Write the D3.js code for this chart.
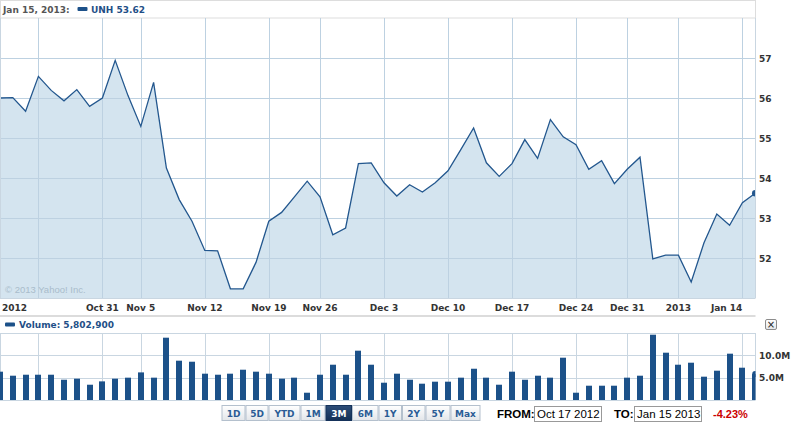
<!DOCTYPE html>
<html>
<head>
<meta charset="utf-8">
<script src="https://cdn.jsdelivr.net/npm/d3@7"></script>
<style>
  html, body { margin: 0; padding: 0; background: #fff; }
  svg { display: block; }
</style>
</head>
<body>
<svg id="chart" width="791" height="425"></svg>
<script>
// ---------------- DATA ----------------
const dates = ["Oct 17","Oct 18","Oct 19","Oct 22","Oct 23","Oct 24","Oct 25","Oct 26","Oct 31",
  "Nov 1","Nov 2","Nov 5","Nov 6","Nov 7","Nov 8","Nov 9","Nov 12","Nov 13","Nov 14","Nov 15","Nov 16",
  "Nov 19","Nov 20","Nov 21","Nov 23","Nov 26","Nov 27","Nov 28","Nov 29","Nov 30",
  "Dec 3","Dec 4","Dec 5","Dec 6","Dec 7","Dec 10","Dec 11","Dec 12","Dec 13","Dec 14",
  "Dec 17","Dec 18","Dec 19","Dec 20","Dec 21","Dec 24","Dec 26","Dec 27","Dec 28","Dec 31",
  "Jan 2","Jan 3","Jan 4","Jan 7","Jan 8","Jan 9","Jan 10","Jan 11","Jan 14","Jan 15"];

const prices = [56.00,56.01,55.67,56.54,56.19,55.93,56.21,55.79,56.00,56.94,
  56.06,55.29,56.39,54.25,53.46,52.92,52.19,52.18,51.23,51.23,
  51.89,52.92,53.14,53.53,53.92,53.53,52.58,52.75,54.36,54.38,
  53.88,53.55,53.83,53.65,53.88,54.18,54.71,55.25,54.38,54.04,
  54.36,54.96,54.49,55.46,55.03,54.83,54.22,54.43,53.86,54.22,
  54.52,51.98,52.07,52.07,51.40,52.38,53.10,52.82,53.38,53.62];

// volume in millions of shares
const volumes = [6.34,5.44,5.66,5.66,5.66,4.54,4.77,3.42,4.17,4.77,
  5.00,6.18,5.00,13.95,8.80,8.57,5.89,5.66,5.89,6.78,
  6.34,5.89,4.77,5.00,1.63,5.66,7.90,5.66,11.04,7.90,
  3.87,5.89,4.54,3.65,4.10,4.10,5.00,7.00,5.00,3.42,
  6.34,4.54,5.44,5.00,9.47,1.63,3.20,3.20,3.20,5.00,
  5.44,14.62,10.59,7.90,8.35,5.22,6.56,10.37,7.23,5.80];

const gridDates = ["Oct 22","Oct 31","Nov 5","Nov 12","Nov 19","Nov 26","Dec 3","Dec 10","Dec 17","Dec 24","Dec 31","Jan 7","Jan 14"];
const gridLabels = ["","Oct 31","Nov 5","Nov 12","Nov 19","Nov 26","Dec 3","Dec 10","Dec 17","Dec 24","Dec 31","2013","Jan 14"];
const startLabel = "2012";
const priceTicks = [52,53,54,55,56,57];
const volumeTicks = [5,10];
const volumeTickLabels = ["5.0M","10.0M"];
const rangeButtons = ["1D","5D","YTD","1M","3M","6M","1Y","2Y","5Y","Max"];
const selectedRange = "3M";
const headerDate = "Jan 15, 2013:";
const ticker = "UNH";
const lastPrice = "53.62";
const volumeText = "Volume: 5,802,900";
const fromDate = "Oct 17 2012";
const toDate = "Jan 15 2013";
const changeText = "-4.23%";

// ---------------- LAYOUT ----------------
const svg = d3.select("#chart");
const W = 755.2;
const plotTop = 18, plotBottom = 298;
const volTop = 333, volBottom = 400;
const bold = "'DejaVu Sans', Verdana, sans-serif";
const gridColor = "#c9d6e1";
const lineColor = "#23578e";
const fillColor = "#d4e4ef";
const barColor = "#1c5189";
const labelColor = "#333";

const x = d3.scaleLinear().domain([0, dates.length - 1]).range([0, W]);
const y = d3.scaleLinear().domain([51, 58]).range([plotBottom, plotTop]);
const yv = d3.scaleLinear().domain([0, 15]).range([volBottom, volTop]);
const px = v => Math.round(v) + 0.5;

const defs = svg.append("defs");
defs.append("clipPath").attr("id", "clipMain").append("rect")
  .attr("x", 0).attr("y", plotTop).attr("width", 755.5).attr("height", plotBottom - plotTop);
defs.append("clipPath").attr("id", "clipVol").append("rect")
  .attr("x", 0).attr("y", volTop).attr("width", 755.5).attr("height", volBottom - volTop);
const g1 = defs.append("linearGradient").attr("id", "btnGrad").attr("x1", 0).attr("x2", 0).attr("y1", 0).attr("y2", 1);
g1.append("stop").attr("offset", "0%").attr("stop-color", "#ffffff");
g1.append("stop").attr("offset", "100%").attr("stop-color", "#e3e6ea");
const g2 = defs.append("linearGradient").attr("id", "selGrad").attr("x1", 0).attr("x2", 0).attr("y1", 0).attr("y2", 1);
g2.append("stop").attr("offset", "0%").attr("stop-color", "#2c4d78");
g2.append("stop").attr("offset", "100%").attr("stop-color", "#132f55");

// ---------------- HEADER ----------------
svg.append("rect").attr("x", 0.5).attr("y", 0.5).attr("width", 755).attr("height", 17.5)
  .attr("fill", "#fff").attr("stroke", "#dddddd");
svg.append("text").attr("x", 3).attr("y", 13).text(headerDate)
  .attr("font-family", bold).attr("font-weight", "bold").attr("font-size", 9).attr("fill", "#555");
svg.append("rect").attr("x", 77.5).attr("y", 7).attr("width", 10).attr("height", 4).attr("rx", 1)
  .attr("fill", barColor);
svg.append("text").attr("x", 91).attr("y", 13).text(ticker + " " + lastPrice)
  .attr("font-family", bold).attr("font-weight", "bold").attr("font-size", 9).attr("fill", "#1f4f87");

// ---------------- MAIN PLOT ----------------
const gridIdx = gridDates.map(d => dates.indexOf(d));
const main = svg.append("g");
main.selectAll("line.vg").data(gridIdx).join("line")
  .attr("x1", d => px(x(d))).attr("x2", d => px(x(d)))
  .attr("y1", plotTop).attr("y2", plotBottom)
  .attr("stroke", gridColor).attr("stroke-width", 1);
main.selectAll("line.hg").data(priceTicks).join("line")
  .attr("x1", 0).attr("x2", 755.5)
  .attr("y1", d => px(y(d))).attr("y2", d => px(y(d)))
  .attr("stroke", gridColor).attr("stroke-width", 1);

const area = d3.area().x((d, i) => x(i)).y0(plotBottom).y1(d => y(d));
const line = d3.line().x((d, i) => x(i)).y(d => y(d));
const clipped = main.append("g").attr("clip-path", "url(#clipMain)");
clipped.append("path").datum(prices).attr("d", area).attr("fill", fillColor);
// grid shows through the fill
clipped.selectAll("line.vg2").data(gridIdx).join("line")
  .attr("x1", d => px(x(d))).attr("x2", d => px(x(d)))
  .attr("y1", plotTop).attr("y2", plotBottom)
  .attr("stroke", "#bdd1e1").attr("stroke-width", 1);
clipped.selectAll("line.hg2").data(priceTicks).join("line")
  .attr("x1", 0).attr("x2", 755.5)
  .attr("y1", d => px(y(d))).attr("y2", d => px(y(d)))
  .attr("stroke", "#bdd1e1").attr("stroke-width", 1);
clipped.append("path").datum(prices).attr("d", line).attr("fill", "none")
  .attr("stroke", lineColor).attr("stroke-width", 1.3).attr("stroke-linejoin", "miter");
clipped.append("circle").attr("cx", x(prices.length - 1)).attr("cy", y(prices[prices.length - 1]))
  .attr("r", 3.2).attr("fill", lineColor);

// plot frame
main.append("line").attr("x1", 0.5).attr("x2", 0.5).attr("y1", plotTop).attr("y2", plotBottom).attr("stroke", gridColor);
main.append("line").attr("x1", 755.5).attr("x2", 755.5).attr("y1", plotTop).attr("y2", plotBottom).attr("stroke", gridColor);
main.append("line").attr("x1", 0).attr("x2", 755.5).attr("y1", plotBottom + 0.5).attr("y2", plotBottom + 0.5).attr("stroke", gridColor);

// watermark
svg.append("text").attr("x", 5).attr("y", 293).text("\u00A9 2013 Yahoo! Inc.")
  .attr("font-family", "'Liberation Sans', Arial, sans-serif").attr("font-size", 9.5).attr("fill", "#a9bccb");

// y labels
svg.selectAll("text.yl").data(priceTicks).join("text")
  .attr("x", 759).attr("y", d => y(d) + 3.5).text(d => d)
  .attr("font-family", bold).attr("font-weight", "bold").attr("font-size", 9).attr("fill", labelColor);

// x labels
svg.append("text").attr("x", 2).attr("y", 311).text(startLabel)
  .attr("font-family", bold).attr("font-weight", "bold").attr("font-size", 9).attr("fill", labelColor);
svg.selectAll("text.xl").data(gridIdx.map((d, i) => ({ i: d, t: gridLabels[i] })).filter(d => d.t))
  .join("text")
  .attr("x", d => Math.min(x(d.i), 754)).attr("y", 311)
  .attr("text-anchor", d => x(d.i) + 16 > 755 ? "end" : "middle")
  .text(d => d.t)
  .attr("font-family", bold).attr("font-weight", "bold").attr("font-size", 9).attr("fill", labelColor);

// separator
svg.append("rect").attr("x", 0).attr("y", 315).attr("width", 755.5).attr("height", 2).attr("fill", "#dcdcdc");

// ---------------- VOLUME ----------------
svg.append("rect").attr("x", 5).attr("y", 322.5).attr("width", 10).attr("height", 4).attr("rx", 1).attr("fill", barColor);
svg.append("text").attr("x", 19).attr("y", 328).text(volumeText)
  .attr("font-family", bold).attr("font-weight", "bold").attr("font-size", 9).attr("fill", "#1f4f87");

// close button
svg.append("rect").attr("x", 765.5).attr("y", 319.5).attr("width", 11).attr("height", 10).attr("rx", 1.5)
  .attr("fill", "url(#btnGrad)").attr("stroke", "#8c8c8c");
svg.append("text").attr("x", 771).attr("y", 328).attr("text-anchor", "middle").text("\u00D7")
  .attr("font-family", bold).attr("font-size", 10).attr("fill", "#222");

const vol = svg.append("g");
vol.selectAll("line.vg").data(gridIdx).join("line")
  .attr("x1", d => px(x(d))).attr("x2", d => px(x(d)))
  .attr("y1", volTop).attr("y2", volBottom)
  .attr("stroke", gridColor);
vol.selectAll("line.hg").data([0, ...volumeTicks, 15]).join("line")
  .attr("x1", 0).attr("x2", 755.5)
  .attr("y1", d => px(yv(d))).attr("y2", d => px(yv(d)))
  .attr("stroke", gridColor);
vol.append("line").attr("x1", 0.5).attr("x2", 0.5).attr("y1", volTop).attr("y2", volBottom).attr("stroke", gridColor);
vol.append("line").attr("x1", 755.5).attr("x2", 755.5).attr("y1", volTop).attr("y2", volBottom).attr("stroke", gridColor);
const vclip = vol.append("g").attr("clip-path", "url(#clipVol)");
vclip.selectAll("rect.bar").data(volumes).join("rect")
  .attr("x", (d, i) => Math.round(x(i)) - 3).attr("width", 6)
  .attr("y", d => yv(d)).attr("height", d => volBottom - yv(d))
  .attr("fill", barColor);
vclip.append("circle").attr("cx", x(volumes.length - 1)).attr("cy", yv(volumes[volumes.length - 1]))
  .attr("r", 3).attr("fill", barColor);

svg.selectAll("text.vl").data(volumeTicks).join("text")
  .attr("x", 759).attr("y", d => yv(d) + 3.5).text((d, i) => volumeTickLabels[i])
  .attr("font-family", bold).attr("font-weight", "bold").attr("font-size", 9).attr("fill", labelColor);

// ---------------- CONTROLS ----------------
const btnEdges = [221.5, 245.5, 268.5, 300.5, 325.5, 352, 378.5, 402, 425.5, 450.5, 480.5];
const btnG = svg.append("g");
rangeButtons.forEach((b, i) => {
  const x0 = btnEdges[i], x1 = btnEdges[i + 1];
  const sel = b === selectedRange;
  btnG.append("rect").attr("x", x0 + 0.5).attr("y", 405.5).attr("width", x1 - x0 - 1).attr("height", 15)
    .attr("fill", sel ? "url(#selGrad)" : "url(#btnGrad)").attr("stroke", sel ? "#15325a" : "#b4c0cd");
  btnG.append("text").attr("x", (x0 + x1) / 2).attr("y", 416.5).attr("text-anchor", "middle").text(b)
    .attr("font-family", bold).attr("font-weight", "bold").attr("font-size", 9)
    .attr("fill", sel ? "#fff" : "#2a5c95");
});

const arial = "'Liberation Sans', Arial, sans-serif";
svg.append("text").attr("x", 497).attr("y", 418).text("FROM:")
  .attr("font-family", arial).attr("font-weight", "bold").attr("font-size", 11.5).attr("fill", "#000");
svg.append("rect").attr("x", 534.5).attr("y", 406.5).attr("width", 67).attr("height", 15)
  .attr("fill", "#fff").attr("stroke", "#999");
svg.append("text").attr("x", 537).attr("y", 418).text(fromDate)
  .attr("font-family", arial).attr("font-size", 11.5).attr("fill", "#000");
svg.append("text").attr("x", 614).attr("y", 418).text("TO:")
  .attr("font-family", arial).attr("font-weight", "bold").attr("font-size", 11.5).attr("fill", "#000");
svg.append("rect").attr("x", 634.5).attr("y", 406.5).attr("width", 67).attr("height", 15)
  .attr("fill", "#fff").attr("stroke", "#999");
svg.append("text").attr("x", 637).attr("y", 418).text(toDate)
  .attr("font-family", arial).attr("font-size", 11.5).attr("fill", "#000");
svg.append("text").attr("x", 713).attr("y", 418).text(changeText)
  .attr("font-family", arial).attr("font-weight", "bold").attr("font-size", 11).attr("fill", "#cc0000");
</script>
</body>
</html>
